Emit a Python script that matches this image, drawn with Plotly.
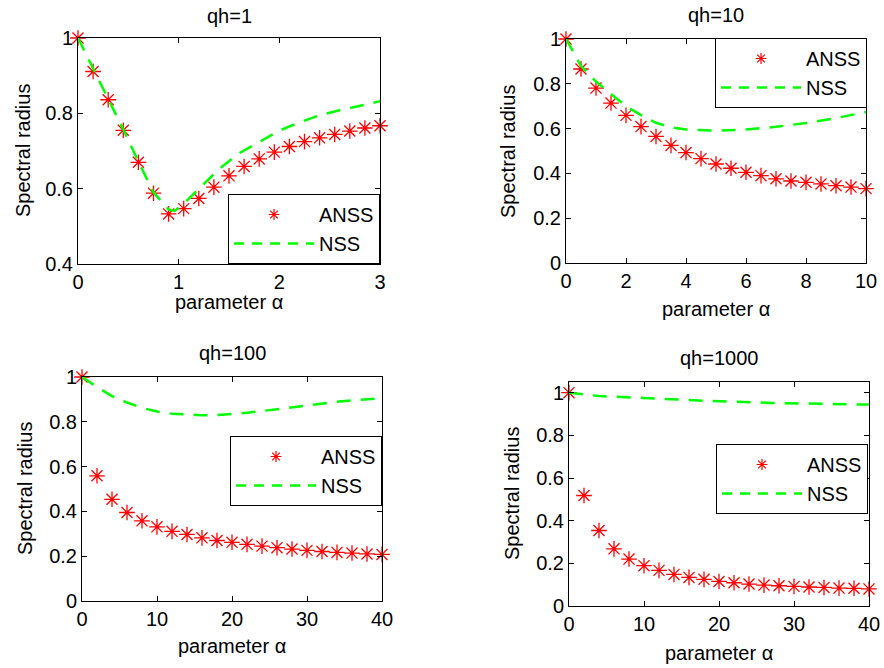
import plotly.graph_objects as go

# ---------------- data ----------------
titles = ["qh=1", "qh=10", "qh=100", "qh=1000"]

# qh = 1
anss1_x = [0, 0.15, 0.3, 0.45, 0.6, 0.75, 0.9, 1.05, 1.2, 1.35, 1.5, 1.65, 1.8, 1.95, 2.1, 2.25, 2.4, 2.55, 2.7, 2.85, 3.0]
anss1_y = [1.0, 0.911, 0.836, 0.755, 0.670, 0.588, 0.533, 0.547, 0.574, 0.604, 0.634, 0.659, 0.679, 0.697, 0.712, 0.725, 0.735, 0.744, 0.753, 0.761, 0.767]
nss1_x = [0, 0.15, 0.3, 0.45, 0.6, 0.75, 0.9, 0.96, 1.05, 1.2, 1.4, 1.6, 1.8, 2.0, 2.2, 2.4, 2.6, 2.8, 3.0]
nss1_y = [1.0, 0.92, 0.84, 0.757, 0.672, 0.59, 0.545, 0.541, 0.56, 0.60, 0.652, 0.694, 0.725, 0.754, 0.776, 0.795, 0.808, 0.820, 0.832]

# qh = 10
anss2_x = [0, 0.5, 1, 1.5, 2, 2.5, 3, 3.5, 4, 4.5, 5, 5.5, 6, 6.5, 7, 7.5, 8, 8.5, 9, 9.5, 10]
anss2_y = [1.0, 0.866, 0.781, 0.714, 0.659, 0.609, 0.565, 0.525, 0.493, 0.466, 0.442, 0.423, 0.405, 0.390, 0.376, 0.366, 0.360, 0.353, 0.345, 0.339, 0.332]
nss2_x = [0, 0.5, 1, 1.5, 2, 2.5, 3, 3.5, 4, 5, 6, 7, 8, 9, 10]
nss2_y = [1.0, 0.88, 0.81, 0.755, 0.70, 0.66, 0.626, 0.606, 0.596, 0.591, 0.596, 0.608, 0.625, 0.647, 0.674]

# qh = 100
anss3_x = [0, 2, 4, 6, 8, 10, 12, 14, 16, 18, 20, 22, 24, 26, 28, 30, 32, 34, 36, 38, 40]
anss3_y = [1.0, 0.559, 0.454, 0.395, 0.358, 0.331, 0.311, 0.297, 0.282, 0.270, 0.262, 0.253, 0.245, 0.238, 0.232, 0.226, 0.221, 0.217, 0.214, 0.210, 0.208]
nss3_x = [0, 2, 4, 6, 8, 10, 12, 14, 16, 18, 20, 22, 24, 26, 28, 30, 32, 34, 36, 38, 40]
nss3_y = [1.0, 0.955, 0.915, 0.886, 0.862, 0.846, 0.836, 0.831, 0.829, 0.830, 0.834, 0.840, 0.848, 0.857, 0.866, 0.875, 0.883, 0.890, 0.896, 0.901, 0.905]

# qh = 1000
anss4_x = [0, 2, 4, 6, 8, 10, 12, 14, 16, 18, 20, 22, 24, 26, 28, 30, 32, 34, 36, 38, 40]
anss4_y = [1.0, 0.518, 0.354, 0.268, 0.220, 0.189, 0.167, 0.148, 0.134, 0.125, 0.115, 0.109, 0.103, 0.098, 0.095, 0.092, 0.089, 0.087, 0.084, 0.083, 0.080]
nss4_x = [0, 4, 10, 18, 27, 40]
nss4_y = [1.0, 0.984, 0.975, 0.962, 0.952, 0.944]

x_ranges = [[0, 3], [0, 10], [0, 40], [0, 40]]
x_dticks = [1, 2, 10, 10]
y_ranges = [[0.4, 1.0], [0, 1.0], [0, 1.0], [0, 1.05]]

series = [
    (anss1_x, anss1_y, nss1_x, nss1_y),
    (anss2_x, anss2_y, nss2_x, nss2_y),
    (anss3_x, anss3_y, nss3_x, nss3_y),
    (anss4_x, anss4_y, nss4_x, nss4_y),
]

# ---------------- layout geometry (pixels) ----------------
W, H = 884, 668
boxes = [  # left, right, top, bottom
    (78, 380, 38, 264),
    (566, 866, 39, 263),
    (82, 382, 377, 601),
    (569, 869, 382, 606),
]
legend_pos = [  # right, y, anchor
    (380, 264, "bottom"),
    (867, 38, "top"),
    (382, 436, "top"),
    (868, 444, "top"),
]
title_y = [16, 15, 353, 358]
xlabel_y = [302, 309, 646, 653]
ylabel_x = [23, 508, 25, 512]

FONT = "Liberation Sans, Arial, Helvetica, sans-serif"
FS = 20

fig = go.Figure()
layout = dict(
    width=W, height=H,
    margin=dict(l=0, r=0, t=0, b=0, autoexpand=False),
    paper_bgcolor="white", plot_bgcolor="white",
    font=dict(family=FONT, size=FS, color="black"),
    showlegend=True,
    annotations=[],
)

for i in range(4):
    ax = "" if i == 0 else str(i + 1)
    ax_x, ax_y = series[i][0], series[i][1]
    nx, ny = series[i][2], series[i][3]
    leg = "legend" if i == 0 else f"legend{i + 1}"
    fig.add_trace(go.Scatter(
        x=ax_x, y=ax_y, mode="markers", name="ANSS",
        xaxis="x" + ax, yaxis="y" + ax, legend=leg, showlegend=False,
        marker=dict(symbol="asterisk-open", size=13, color="red",
                    line=dict(color="red", width=1.3)),
        cliponaxis=False,
    ))
    fig.add_trace(go.Scatter(
        x=nx, y=ny, mode="lines", name="NSS",
        xaxis="x" + ax, yaxis="y" + ax, legend=leg, showlegend=False,
        line=dict(color="#00ff00", width=2.5, dash="14px,10px"),
    ))
    # legend entries (smaller symbols, as in the reference legend)
    fig.add_trace(go.Scatter(
        x=[None], y=[None], mode="markers", name="ANSS",
        xaxis="x" + ax, yaxis="y" + ax, legend=leg,
        marker=dict(symbol="asterisk-open", size=9, color="red",
                    line=dict(color="red", width=1.2)),
    ))
    fig.add_trace(go.Scatter(
        x=[None], y=[None], mode="lines", name="NSS",
        xaxis="x" + ax, yaxis="y" + ax, legend=leg,
        line=dict(color="#00ff00", width=2.5, dash="10px,8px"),
    ))
    l, r, t, b = boxes[i]
    common = dict(
        showline=True, linecolor="black", linewidth=1, mirror="ticks",
        ticks="inside", ticklen=5, tickcolor="black", showgrid=False,
        zeroline=False, automargin=False,
        tickfont=dict(family=FONT, size=FS, color="black"),
    )
    layout["xaxis" + ax] = dict(
        domain=[l / W, r / W], range=x_ranges[i], dtick=x_dticks[i], tick0=0,
        anchor="y" + ax, **common)
    layout["yaxis" + ax] = dict(
        domain=[1 - b / H, 1 - t / H], range=y_ranges[i], dtick=0.2, tick0=0,
        anchor="x" + ax, **common)
    lr, ly, anch = legend_pos[i]
    layout[leg] = dict(
        x=lr / W, xanchor="right", y=1 - ly / H, yanchor=anch,
        bordercolor="black", borderwidth=1, bgcolor="white",
        font=dict(family=FONT, size=FS, color="black"), itemwidth=80,
        tracegroupgap=0,
    )
    cx = (l + r) / 2
    layout["annotations"] += [
        dict(text=titles[i], x=cx / W, y=1 - title_y[i] / H, xref="paper", yref="paper",
             xanchor="center", yanchor="middle", showarrow=False,
             font=dict(family=FONT, size=FS, color="black")),
        dict(text="parameter α", x=cx / W, y=1 - xlabel_y[i] / H, xref="paper", yref="paper",
             xanchor="center", yanchor="middle", showarrow=False,
             font=dict(family=FONT, size=FS, color="black")),
        dict(text="Spectral radius", x=ylabel_x[i] / W, y=1 - ((t + b) / 2) / H,
             xref="paper", yref="paper", xanchor="center", yanchor="middle",
             textangle=-90, showarrow=False,
             font=dict(family=FONT, size=FS, color="black")),
    ]

fig.update_layout(**layout)
fig.write_html("out.html")
